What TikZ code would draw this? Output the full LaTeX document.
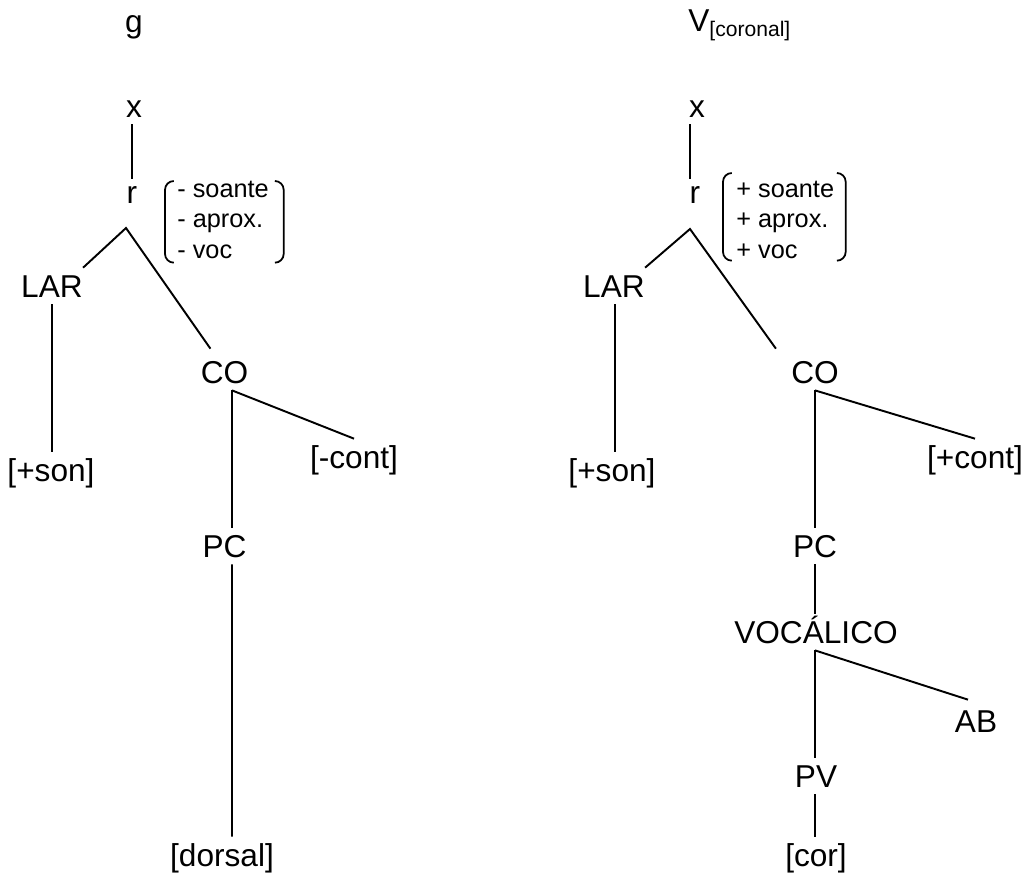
\documentclass[tikz,border=0pt]{standalone}
\usepackage{fontspec}
\setmainfont{Liberation Sans}
\begin{document}
\begin{tikzpicture}[x=0.02cm, y=-0.02cm,
    no/.style={anchor=base, inner xsep=0pt, inner ysep=4pt, text height=12.5pt,
      text depth=0pt, font=\fontsize{18}{21}\selectfont},
    nobaixo/.style={no, text height=9.5pt},
    ramo/.style={line width=1.1pt},
    caixa/.style={inner sep=0pt, anchor=north west},
    traco/.style={anchor=base west, inner sep=0pt, font=\fontsize{14.4}{17.6}\selectfont},
    paren/.style={line width=1pt, rounded corners=5pt}]
    \useasboundingbox (0,0) rectangle (1029,883);

    % Segmento g
    \node[no] (lg) at (134,32) {g};
    \node[no] (lx) at (134,117) {x};
    \node[nobaixo] (lr) at (132,203) {r};
    \coordinate (lj) at (126,228);
    \node[no] (lLAR) at (52,297) {LAR};
    \node[no] (lson) at (51,481) {[+son]};
    \node[no] (lCO) at (224.5,383) {CO};
    \node[no] (lcont) at (354,468) {[-cont]};
    \node[no] (lPC) at (224.5,557) {PC};
    \node[no] (ldors) at (222,866) {[dorsal]};

    % Segmento V coronal
    \node[no, anchor=base west] (rV) at (688,31)
        {V\raisebox{-3pt}{\fontsize{12}{14}\selectfont[coronal]}};
    \node[no] (rx) at (697,117) {x};
    \node[nobaixo] (rr) at (695,203) {r};
    \coordinate (rj) at (690,229);
    \node[no] (rLAR) at (614,297) {LAR};
    \node[no] (rson) at (612,481) {[+son]};
    \node[no] (rCO) at (815,383) {CO};
    \node[no] (rcont) at (975,468) {[+cont]};
    \node[no] (rPC) at (815,557) {PC};
    \node[no] (rVOC) at (816,643) {VOCÁLICO};
    \node[no] (rAB) at (976,732) {AB};
    \node[no] (rPV) at (816,787) {PV};
    \node[no] (rcor) at (816,866) {[cor]};

    % Traços de raiz
    \node[caixa, minimum width=2.36cm, minimum height=1.62cm] (lfeat) at (165,181) {};
    \node[traco] at ([shift={(12,16)}]lfeat.north west)
        {\begin{tabular}[t]{@{}l@{}}- soante\\- aprox.\\- voc\end{tabular}};
    \node[caixa, minimum width=2.44cm, minimum height=1.74cm] (rfeat) at (723,173) {};
    \node[traco] at ([shift={(13,24)}]rfeat.north west)
        {\begin{tabular}[t]{@{}l@{}}+ soante\\+ aprox.\\+ voc\end{tabular}};
    \foreach \b in {lfeat, rfeat}{
        \draw[paren] ([xshift=5pt]\b.north west) -- (\b.north west)
            -- (\b.south west) -- ([xshift=5pt]\b.south west);
        \draw[paren] ([xshift=-5pt]\b.north east) -- (\b.north east)
            -- (\b.south east) -- ([xshift=-5pt]\b.south east);
    }

    % Ramos de g
    \draw[ramo] (lx.south -| lr) -- (lr.north);
    \draw[ramo] (lLAR.north east) -- (lj) -- ([shift={(10,-5)}]lCO.north west);
    \draw[ramo] (lLAR.south) -- (lson.north -| lLAR);
    \draw[ramo] ([shift={(7.5,0)}]lCO.south) -- ([shift={(7.5,0)}]lPC.north);
    \draw[ramo] ([shift={(7.5,0)}]lCO.south) -- (lcont.north);
    \draw[ramo] ([shift={(7.5,0)}]lPC.south) -- ([shift={(10,0)}]ldors.north);

    % Ramos de V
    \draw[ramo] (rx.south -| rj) -- (rr.north -| rj);
    \draw[ramo] (rLAR.north east) -- (rj) -- ([shift={(-15,-5)}]rCO.north west);
    \draw[ramo] ([shift={(3,0)}]rLAR.south -| rson) -- ([shift={(3,0)}]rson.north);
    \draw[ramo] (rCO.south) -- (rPC.north);
    \draw[ramo] (rCO.south) -- (rcont.north);
    \draw[ramo] (rPC.south) -- (rVOC.north -| rPC);
    \draw[ramo] (rVOC.south -| rPC) -- (rPV.north -| rPC);
    \draw[ramo] (rVOC.south -| rPC) -- ([shift={(-8,-3)}]rAB.north);
    \draw[ramo] (rPV.south -| rPC) -- (rcor.north -| rPC);
\end{tikzpicture}
\end{document}
